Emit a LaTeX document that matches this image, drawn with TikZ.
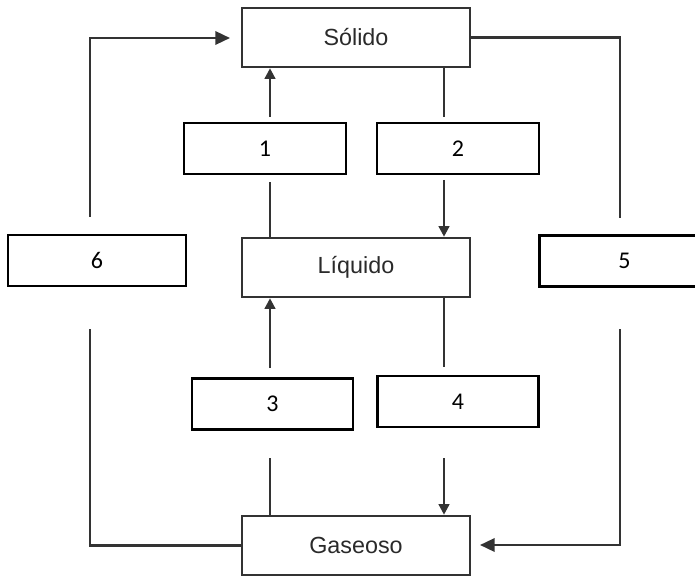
\documentclass[tikz,border=0pt]{standalone}
\usepackage{fontspec}
\setmainfont{Liberation Sans}
\newfontfamily\numfont{Carlito}
\usetikzlibrary{arrows.meta}
\definecolor{lin}{HTML}{333333}
\definecolor{txt}{HTML}{2A2A2A}
\tikzset{
  statebox/.style={draw=lin, line width=1.9pt, minimum width=228*0.75pt, minimum height=59*0.75pt, inner sep=0pt, font=\fontsize{17.5}{20}\selectfont, text=txt},
  numbox/.style={draw=black, line width=2pt, minimum height=51*0.75pt, inner sep=0pt, font=\numfont\fontsize{18}{21}\selectfont},
  conn/.style={draw=lin, line width=1.8pt},
  arr/.style={conn, -{Triangle[length=8pt, width=8pt]}},
  bigarr/.style={conn, -{Triangle[length=11pt, width=10pt]}}
}
\begin{document}
\begin{tikzpicture}[x=0.75pt, y=-0.75pt]
\useasboundingbox (0,0) rectangle (695,577);
\node[statebox] (sol) at (356,37.5) {Sólido};
\node[statebox] (liq) at (356,267.5) {Líquido};
\node[statebox] (gas) at (356,545.5) {Gaseoso};
\node[numbox, minimum width=162*0.75pt] (b1) at (265,148.5) {1};
\node[numbox, minimum width=162*0.75pt] (b2) at (458,148.5) {2};
\node[numbox, minimum width=161*0.75pt] (b3) at (272.5,404) {3};
\node[numbox, minimum width=161*0.75pt] (b4) at (458,401.5) {4};
\node[numbox, minimum width=178*0.75pt] (b6) at (97,260.5) {6};
\node[numbox, minimum width=170*0.75pt, anchor=west, text width=156*0.75pt, align=center] (b5) at (538,261) {5};
% gap coordinates
\coordinate (a1) at (270,182);
\coordinate (a2) at (270,117);
\coordinate (c1) at (444,117);
\coordinate (c2) at (444,180);
\coordinate (d1) at (270,458);
\coordinate (d2) at (270,368);
\coordinate (e1) at (444,367);
\coordinate (e2) at (444,458);
\coordinate (l1) at (90,329);
\coordinate (l2) at (90,217);
\coordinate (lt) at (230,38);
\coordinate (r1) at (620,218);
\coordinate (r2) at (620,329);
\coordinate (rt) at (480,545);
% 1
\draw[conn] (liq.north -| a1) -- (a1);
\draw[arr] (a2) -- (sol.south -| a2);
% 2
\draw[conn] (sol.south -| c1) -- (c1);
\draw[arr] (c2) -- (liq.north -| c2);
% 3
\draw[conn] (gas.north -| d1) -- (d1);
\draw[arr] (d2) -- (liq.south -| d2);
% 4
\draw[conn] (liq.south -| e1) -- (e1);
\draw[arr] (e2) -- (gas.north -| e2);
% 6
\draw[conn] (gas.west) -- (gas.west -| l1) -- (l1);
\draw[bigarr] (l2) -- (l2 |- lt) -- (lt);
% 5
\draw[conn] (sol.east) -- (sol.east -| r1) -- (r1);
\draw[bigarr] (r2) -- (r2 |- rt) -- (rt);
\end{tikzpicture}
\end{document}
